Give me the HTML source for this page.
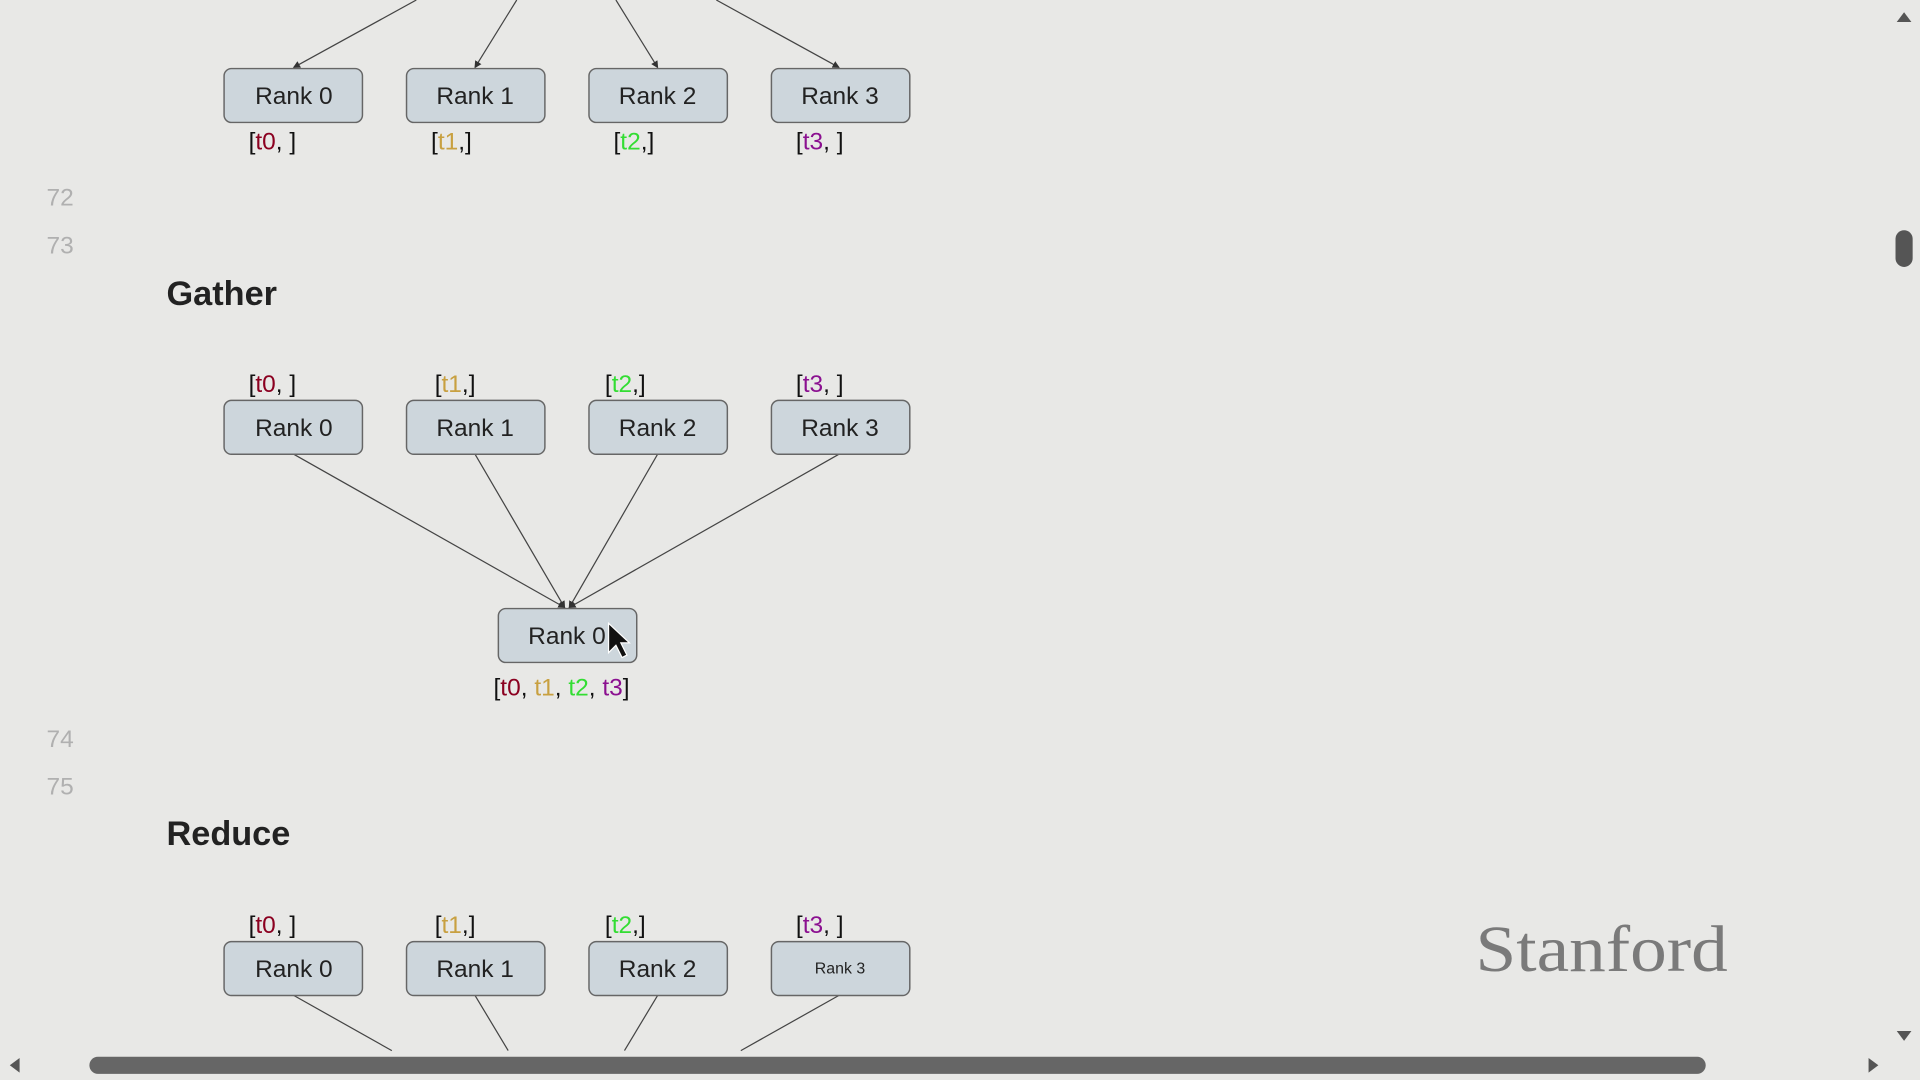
<!DOCTYPE html>
<html><head><meta charset="utf-8"><style>
html,body{margin:0;padding:0;background:#e8e8e6;overflow:hidden}
svg{display:block}
</style></head><body>
<svg width="1920" height="1080" viewBox="0 0 1568 882" preserveAspectRatio="none" font-family="Liberation Sans, sans-serif">
<rect width="1568" height="882" fill="#e8e8e6"/>
<defs>
<marker id="a" markerWidth="6" markerHeight="6" refX="5" refY="3" orient="auto"><path d="M0,0 L6,3 L0,6z" fill="#333"/></marker>
<g id="bx"><rect x="0" y="0" width="113" height="44" rx="6" fill="#cdd6dc" stroke="#666" stroke-width="1.2"/></g>
</defs>
<g stroke="#444" stroke-width="1" fill="none">
<line x1="340" y1="0" x2="240" y2="55" marker-end="url(#a)"/>
<line x1="422" y1="0" x2="388" y2="55" marker-end="url(#a)"/>
<line x1="503" y1="0" x2="537" y2="55" marker-end="url(#a)"/>
<line x1="585" y1="0" x2="685" y2="55" marker-end="url(#a)"/>
<line x1="240" y1="371" x2="461" y2="496" marker-end="url(#a)"/>
<line x1="388" y1="371" x2="461" y2="496" marker-end="url(#a)"/>
<line x1="537" y1="371" x2="465" y2="496" marker-end="url(#a)"/>
<line x1="685" y1="371" x2="465" y2="496" marker-end="url(#a)"/>
<line x1="240" y1="813" x2="320" y2="858"/>
<line x1="388" y1="813" x2="415" y2="858"/>
<line x1="537" y1="813" x2="510" y2="858"/>
<line x1="685" y1="813" x2="605" y2="858"/>
</g>
<g font-size="20" fill="#222" text-anchor="middle">
<use href="#bx" x="183" y="56"/><use href="#bx" x="332" y="56"/><use href="#bx" x="481" y="56"/><use href="#bx" x="630" y="56"/>
<text x="240" y="85">Rank 0</text><text x="388" y="85">Rank 1</text><text x="537" y="85">Rank 2</text><text x="686" y="85">Rank 3</text>
<use href="#bx" x="183" y="327"/><use href="#bx" x="332" y="327"/><use href="#bx" x="481" y="327"/><use href="#bx" x="630" y="327"/>
<text x="240" y="356">Rank 0</text><text x="388" y="356">Rank 1</text><text x="537" y="356">Rank 2</text><text x="686" y="356">Rank 3</text>
<use href="#bx" x="407" y="497"/><text x="463" y="526">Rank 0</text>
<use href="#bx" x="183" y="769"/><use href="#bx" x="332" y="769"/><use href="#bx" x="481" y="769"/><use href="#bx" x="630" y="769"/>
<text x="240" y="798">Rank 0</text><text x="388" y="798">Rank 1</text><text x="537" y="798">Rank 2</text><text x="686" y="795" font-size="13">Rank 3</text>
</g>
<g font-size="20" fill="#111">
<text x="203" y="122">[<tspan fill="#8b0020">t0</tspan>, ]</text>
<text x="352" y="122">[<tspan fill="#c8a040">t1</tspan>,]</text>
<text x="501" y="122">[<tspan fill="#33dd33">t2</tspan>,]</text>
<text x="650" y="122">[<tspan fill="#8b1090">t3</tspan>, ]</text>
<text x="203" y="320">[<tspan fill="#8b0020">t0</tspan>, ]</text>
<text x="355" y="320">[<tspan fill="#c8a040">t1</tspan>,]</text>
<text x="494" y="320">[<tspan fill="#33dd33">t2</tspan>,]</text>
<text x="650" y="320">[<tspan fill="#8b1090">t3</tspan>, ]</text>
<text x="403" y="568">[<tspan fill="#8b0020">t0</tspan>, <tspan fill="#c8a040">t1</tspan>, <tspan fill="#33dd33">t2</tspan>, <tspan fill="#8b1090">t3</tspan>]</text>
<text x="203" y="762">[<tspan fill="#8b0020">t0</tspan>, ]</text>
<text x="355" y="762">[<tspan fill="#c8a040">t1</tspan>,]</text>
<text x="494" y="762">[<tspan fill="#33dd33">t2</tspan>,]</text>
<text x="650" y="762">[<tspan fill="#8b1090">t3</tspan>, ]</text>
</g>
<g font-size="20" fill="#b0b0b0">
<text x="38" y="168">72</text><text x="38" y="207">73</text><text x="38" y="610">74</text><text x="38" y="649">75</text>
</g>
<g font-size="28" font-weight="bold" fill="#222">
<text x="136" y="249">Gather</text><text x="136" y="690">Reduce</text>
</g>
<text x="1205" y="793" font-family="Liberation Serif, serif" font-size="54" fill="#7a7a7a" textLength="206" lengthAdjust="spacingAndGlyphs">Stanford</text>
<rect x="1548" y="188" width="14" height="30" rx="7" fill="#555"/>
<path d="M1549,18 L1555,10 L1561,18z" fill="#555"/>
<path d="M1549,842 L1555,850 L1561,842z" fill="#555"/>
<rect x="73" y="863" width="1320" height="14" rx="7" fill="#666"/>
<path d="M16,864 L8,870 L16,876z" fill="#555"/>
<path d="M1526,864 L1534,870 L1526,876z" fill="#555"/>
<path d="M497,509 L497,533 L503,527 L508,537 L512,535 L507,525 L514,525z" fill="#111" stroke="#fff" stroke-width="1"/>
</svg>
</body></html>
